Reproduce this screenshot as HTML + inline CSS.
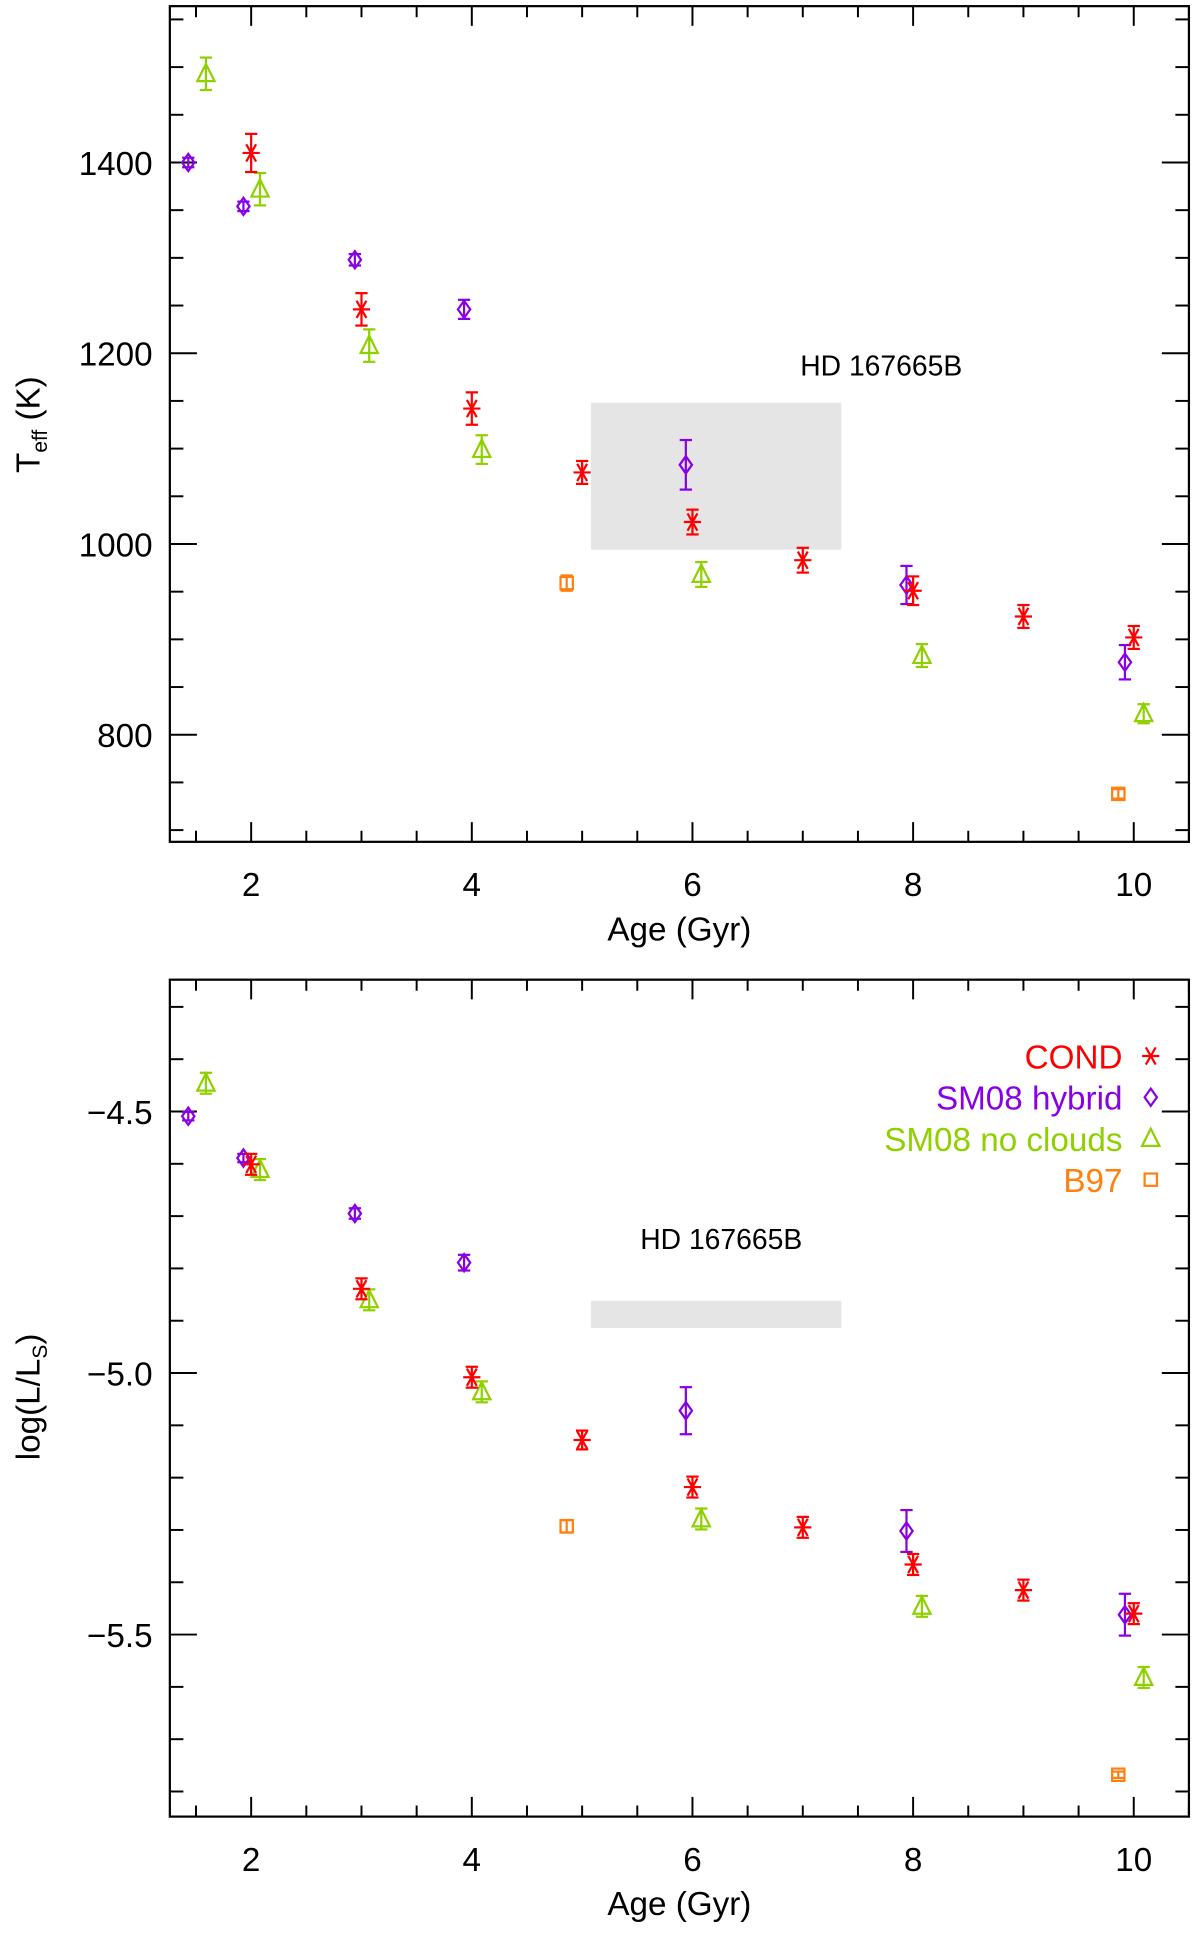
<!DOCTYPE html>
<html><head><meta charset="utf-8"><style>
html,body{margin:0;padding:0;background:#fff}
svg{display:block}
text{font-family:"Liberation Sans",sans-serif;}
</style></head><body>
<svg id="fig" width="1200" height="1935" viewBox="0 0 975 1572.2" xmlns="http://www.w3.org/2000/svg">
<g id="topPanel"></g>
<g id="botPanel"></g>
</svg>
<script>
// ---- data ----
const condAgeT = [2.0,3.0,4.0,5.0,6.0,7.0,8.0,9.0,10.0];
const condTeff = [1410,1246,1142,1075,1023,983,951,924,902];
const condTeffErr = [20,17,17,12,13,13,15,12,12];
const hybAgeT = [1.43,1.93,2.94,3.93,5.94,7.94,9.92];
const hybTeff = [1400,1354,1298,1246,1083,957,876];
const hybTeffErr = [5,5,6,10,26,20,18];
const ncAgeT = [1.59,2.08,3.07,4.09,6.08,8.08,10.09];
const ncTeff = [1493,1372,1208,1099,968,883,822];
const ncTeffErr = [17,17,17,15,13,12,10];
const b97AgeT = [4.86,9.86];
const b97Teff = [959,738];
const b97TeffErr = [8,5];

const condL = [-4.601,-4.839,-5.008,-5.128,-5.218,-5.295,-5.366,-5.415,-5.46];
const condLErr = [0.02,0.02,0.02,0.018,0.02,0.02,0.02,0.02,0.02];
const hybL = [-4.509,-4.589,-4.695,-4.789,-5.072,-5.302,-5.462];
const hybLErr = [0.008,0.008,0.01,0.015,0.045,0.04,0.04];
const ncL = [-4.446,-4.611,-4.86,-5.036,-5.279,-5.446,-5.582];
const ncLErr = [0.02,0.02,0.02,0.02,0.02,0.02,0.02];
const b97L = [-5.293,-5.768];
const b97LErr = [0.012,0.006];

const objAge = [5.08,7.35];
const objTeff = [994,1148];
const objL = [-4.914,-4.862];

const xTicks = [2,4,6,8,10];
const teffTicks = [800,1000,1200,1400];
const lTicks = [-5.5,-5.0,-4.5];
const legendLabels = ['COND','SM08 hybrid','SM08 no clouds','B97'];

const NS='http://www.w3.org/2000/svg';
const RED='#ff0000', PUR='#8a00e6', GRN='#8ed000', ORG='#ff7f10';
function el(tag, attrs, parent){const e=document.createElementNS(NS,tag);for(const k in attrs)e.setAttribute(k,attrs[k]);parent.appendChild(e);return e;}

function panel(g, P){
  const sx=v=>P.x0+(v-P.xmin)/(P.xmax-P.xmin)*(P.x1-P.x0);
  const sy=v=>P.y1-(v-P.ymin)/(P.ymax-P.ymin)*(P.y1-P.y0);
  const r=el('rect',{x:sx(objAge[0]),y:sy(P.box[1]),width:sx(objAge[1])-sx(objAge[0]),height:sy(P.box[0])-sy(P.box[1]),fill:'#e5e5e5'},g);
  
  
  const lt=el('text',{x:P.labX,y:P.labY,'font-size':23,'text-anchor':'middle',fill:'#000'},g);
  lt.textContent='HD 167665B';
  
  
  const f=el('rect',{x:P.x0,y:P.y0,width:P.x1-P.x0,height:P.y1-P.y0,fill:'none',stroke:'#000','stroke-width':1.8},g);
  
  
  for(let v=1.5; v<=10.5; v+=0.5){
    const X=sx(v); if(X<P.x0||X>P.x1) continue;
    const len=(v%2===0)?16:9;
    el('line',{x1:X,y1:P.y1,x2:X,y2:P.y1-len,stroke:'#000','stroke-width':1.6},g);
    el('line',{x1:X,y1:P.y0,x2:X,y2:P.y0+len,stroke:'#000','stroke-width':1.6},g);
  }
  xTicks.forEach(v=>{
    const t=el('text',{x:sx(v),y:P.y1+44,'font-size':27,'text-anchor':'middle'},g);
    t.textContent=String(v);
    
    
  });
  const xt=el('text',{x:(P.x0+P.x1)/2,y:P.y1+80,'font-size':27,'text-anchor':'middle'},g);
  xt.textContent='Age (Gyr)';
  
  
  const n=Math.round((P.ymax-P.ymin)/P.minor);
  for(let i=0;i<=n+1;i++){
    const v=Math.ceil(P.ymin/P.minor)*P.minor+i*P.minor;
    const Y=sy(v); if(Y<P.y0+2||Y>P.y1-2) continue;
    const major=P.ticks.some(t=>Math.abs(t-v)<1e-6);
    const len=major?22:11;
    el('line',{x1:P.x0,y1:Y,x2:P.x0+len,y2:Y,stroke:'#000','stroke-width':1.6},g);
    el('line',{x1:P.x1,y1:Y,x2:P.x1-len,y2:Y,stroke:'#000','stroke-width':1.6},g);
  }
  P.ticks.forEach(v=>{
    const t=el('text',{x:P.x0-14,y:sy(v)+10,'font-size':27,'text-anchor':'end'},g);
    t.textContent=P.fmt(v);
    
    
  });
  P.series.forEach(s=>{
    const sg=el('g',{},g);
    
    
    s.x.forEach((a,i)=>{
      const X=sx(a),Y=sy(s.y[i]),yt=sy(s.y[i]+s.e[i]),yb=sy(s.y[i]-s.e[i]);
      const c=s.color, w=1.8;
      el('line',{x1:X,y1:yt,x2:X,y2:yb,stroke:c,'stroke-width':w},sg);
      el('line',{x1:X-5,y1:yt,x2:X+5,y2:yt,stroke:c,'stroke-width':w},sg);
      el('line',{x1:X-5,y1:yb,x2:X+5,y2:yb,stroke:c,'stroke-width':w},sg);
      marker(sg,s.m,X,Y,c);
    });
  });
}
function marker(g,m,X,Y,c){
  const w=1.8;
  if(m==='ast'){
    el('line',{x1:X-7,y1:Y,x2:X+7,y2:Y,stroke:c,'stroke-width':w},g);
    el('line',{x1:X-4,y1:Y-7,x2:X+4,y2:Y+7,stroke:c,'stroke-width':w},g);
    el('line',{x1:X+4,y1:Y-7,x2:X-4,y2:Y+7,stroke:c,'stroke-width':w},g);
  } else if(m==='dia'){
    el('polygon',{points:`${X-5},${Y} ${X},${Y-7} ${X+5},${Y} ${X},${Y+7}`,fill:'none',stroke:c,'stroke-width':w},g);
  } else if(m==='tri'){
    el('polygon',{points:`${X-7},${Y+6} ${X},${Y-8} ${X+7},${Y+6}`,fill:'none',stroke:c,'stroke-width':w},g);
  } else {
    el('rect',{x:X-5,y:Y-5,width:10,height:10,fill:'none',stroke:c,'stroke-width':w},g);
  }
}
const topG=document.getElementById('topPanel'), botG=document.getElementById('botPanel');
panel(topG,{x0:138,x1:966,y0:5,y1:684,xmin:1.263,xmax:10.5,ymin:687.7,ymax:1563.9,minor:50,ticks:teffTicks,fmt:v=>String(v),
  box:objTeff,labX:716,labY:305,
  series:[
    {name:'b97-teff',x:b97AgeT,y:b97Teff,e:b97TeffErr,color:ORG,m:'sq'},
    {name:'nocloud-teff',x:ncAgeT,y:ncTeff,e:ncTeffErr,color:GRN,m:'tri'},
    {name:'hybrid-teff',x:hybAgeT,y:hybTeff,e:hybTeffErr,color:PUR,m:'dia'},
    {name:'cond-teff',x:condAgeT,y:condTeff,e:condTeffErr,color:RED,m:'ast'}]});
panel(botG,{x0:138,x1:966,y0:796,y1:1476,xmin:1.263,xmax:10.5,ymin:-5.848,ymax:-4.248,minor:0.1,ticks:lTicks,fmt:v=>'\u2212'+Math.abs(v).toFixed(1),
  box:objL,labX:586,labY:1015,
  series:[
    {name:'b97-lum',x:b97AgeT,y:b97L,e:b97LErr,color:ORG,m:'sq'},
    {name:'nocloud-lum',x:ncAgeT,y:ncL,e:ncLErr,color:GRN,m:'tri'},
    {name:'hybrid-lum',x:hybAgeT,y:hybL,e:hybLErr,color:PUR,m:'dia'},
    {name:'cond-lum',x:condAgeT,y:condL,e:condLErr,color:RED,m:'ast'}]});
const lg=el('g',{},botG);


const lc=[RED,PUR,GRN,ORG], lm=['ast','dia','tri','sq'];
legendLabels.forEach((s,i)=>{
  const Y=858+i*33.5;
  const t=el('text',{x:912,y:Y+10,'font-size':27,'text-anchor':'end',fill:lc[i]},lg);
  t.textContent=s;
  
  
  marker(lg,lm[i],935,Y,lc[i]);
});
const yt1=el('text',{x:0,y:0,'font-size':27,'text-anchor':'middle',transform:'translate(32,345) rotate(-90)'},topG);
yt1.innerHTML='T<tspan font-size="17" dy="6">eff</tspan><tspan dy="-6"> (K)</tspan>';


const yt2=el('text',{x:0,y:0,'font-size':27,'text-anchor':'middle',transform:'translate(32,1135) rotate(-90)'},botG);
yt2.innerHTML='log(L/L<tspan font-size="17" dy="6">S</tspan><tspan dy="-6">)</tspan>';


</script>
</body></html>
